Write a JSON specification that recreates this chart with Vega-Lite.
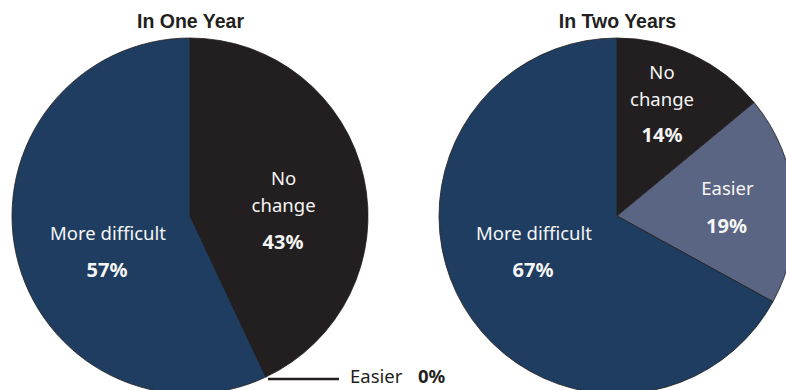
{
  "$schema": "https://vega.github.io/schema/vega-lite/v6.json",
  "width": 786,
  "height": 348,
  "autosize": {"type": "none"},
  "padding": {"top": 42, "left": 0, "right": 0, "bottom": 0},
  "background": "#ffffff",
  "config": {"view": {"stroke": null}},
  "data": {
    "values": [
      {"panel": "In One Year", "answer": "No change", "pct": 43, "order": 1},
      {"panel": "In One Year", "answer": "Easier", "pct": 0, "order": 2},
      {"panel": "In One Year", "answer": "More difficult", "pct": 57, "order": 3},
      {"panel": "In Two Years", "answer": "No change", "pct": 14, "order": 1},
      {"panel": "In Two Years", "answer": "Easier", "pct": 19, "order": 2},
      {"panel": "In Two Years", "answer": "More difficult", "pct": 67, "order": 3}
    ]
  },
  "transform": [
    {"stack": "pct", "groupby": ["panel"], "sort": [{"field": "order", "order": "ascending"}], "as": ["t0", "t1"]},
    {"calculate": "(datum.t0 + datum.t1) / 2", "as": "mid"},
    {"calculate": "datum.pct + '%'", "as": "pctLabel"}
  ],
  "encoding": {
    "x": {
      "field": "panel",
      "type": "nominal",
      "scale": {"type": "point", "domain": ["In One Year", "In Two Years"], "range": [190, 617], "padding": 0},
      "axis": {
        "orient": "top",
        "title": null,
        "domain": false,
        "ticks": false,
        "tickSize": 0,
        "grid": false,
        "labelAngle": 0,
        "labelFont": "Liberation Sans",
        "labelFontWeight": "bold",
        "labelFontSize": 19.5,
        "labelColor": "#231f20",
        "labelBaseline": "alphabetic",
        "labelPadding": 15,
        "labelFlush": false,
        "labelOverlap": false,
        "labelBound": false
      }
    }
  },
  "layer": [
    {
      "mark": {"type": "arc", "radius": 178, "stroke": "#231f20", "strokeWidth": 0.8},
      "encoding": {
        "theta": {"field": "t0", "type": "quantitative", "scale": {"domain": [0, 100]}, "stack": null},
        "theta2": {"field": "t1"},
        "color": {
          "field": "answer",
          "type": "nominal",
          "scale": {"domain": ["More difficult", "No change", "Easier"], "range": ["#1e3d60", "#231f20", "#5a6583"]},
          "legend": null
        }
      }
    },
    {
      "transform": [{"filter": "datum.panel == 'In One Year' && datum.answer == 'No change'"}],
      "mark": {"type": "text", "radius": 100, "dx": -4, "dy": -9, "align": "center", "baseline": "alphabetic", "lineBreak": " ", "lineHeight": 26.7, "font": "Noto Sans", "fontSize": 18.5, "color": "#f5f5f5"},
      "encoding": {"theta": {"field": "mid", "type": "quantitative", "stack": null}, "text": {"field": "answer"}}
    },
    {
      "transform": [{"filter": "datum.panel == 'In One Year' && datum.answer == 'No change'"}],
      "mark": {"type": "text", "radius": 100, "dx": -4.6, "dy": 54.8, "align": "center", "baseline": "alphabetic", "font": "Noto Sans", "fontSize": 20, "fontWeight": "bold", "color": "#f5f5f5"},
      "encoding": {"theta": {"field": "mid", "type": "quantitative", "stack": null}, "text": {"field": "pctLabel"}}
    },
    {
      "transform": [{"filter": "datum.panel == 'In One Year' && datum.answer == 'More difficult'"}],
      "mark": {"type": "text", "radius": 100, "dx": 15.6, "dy": 2.2, "align": "center", "baseline": "alphabetic", "font": "Noto Sans", "fontSize": 18.5, "color": "#f5f5f5"},
      "encoding": {"theta": {"field": "mid", "type": "quantitative", "stack": null}, "text": {"field": "answer"}}
    },
    {
      "transform": [{"filter": "datum.panel == 'In One Year' && datum.answer == 'More difficult'"}],
      "mark": {"type": "text", "radius": 100, "dx": 14.6, "dy": 39.2, "align": "center", "baseline": "alphabetic", "font": "Noto Sans", "fontSize": 20, "fontWeight": "bold", "color": "#f5f5f5"},
      "encoding": {"theta": {"field": "mid", "type": "quantitative", "stack": null}, "text": {"field": "pctLabel"}}
    },
    {
      "transform": [{"filter": "datum.panel == 'In One Year' && datum.answer == 'Easier'"}],
      "mark": {"type": "tick", "orient": "horizontal", "size": 71, "thickness": 2.5, "color": "#231f20", "opacity": 1, "xOffset": 113.5, "yOffset": 163},
      "encoding": {}
    },
    {
      "transform": [{"filter": "datum.panel == 'In One Year' && datum.answer == 'Easier'"}],
      "mark": {"type": "text", "radius": 178, "dx": 84.2, "dy": 5.9, "align": "left", "baseline": "alphabetic", "font": "Noto Sans", "fontSize": 18.5, "color": "#231f20"},
      "encoding": {"theta": {"field": "mid", "type": "quantitative", "stack": null}, "text": {"field": "answer"}}
    },
    {
      "transform": [{"filter": "datum.panel == 'In One Year' && datum.answer == 'Easier'"}],
      "mark": {"type": "text", "radius": 178, "dx": 152.2, "dy": 5.9, "align": "left", "baseline": "alphabetic", "font": "Noto Sans", "fontSize": 18.5, "fontWeight": "bold", "color": "#231f20"},
      "encoding": {"theta": {"field": "mid", "type": "quantitative", "stack": null}, "text": {"field": "pctLabel"}}
    },
    {
      "transform": [{"filter": "datum.panel == 'In Two Years' && datum.answer == 'No change'"}],
      "mark": {"type": "text", "radius": 100, "dx": 2.4, "dy": -46.5, "align": "center", "baseline": "alphabetic", "lineBreak": " ", "lineHeight": 26.7, "font": "Noto Sans", "fontSize": 18.5, "color": "#f5f5f5"},
      "encoding": {"theta": {"field": "mid", "type": "quantitative", "stack": null}, "text": {"field": "answer"}}
    },
    {
      "transform": [{"filter": "datum.panel == 'In Two Years' && datum.answer == 'No change'"}],
      "mark": {"type": "text", "radius": 100, "dx": 2.4, "dy": 16.5, "align": "center", "baseline": "alphabetic", "font": "Noto Sans", "fontSize": 20, "fontWeight": "bold", "color": "#f5f5f5"},
      "encoding": {"theta": {"field": "mid", "type": "quantitative", "stack": null}, "text": {"field": "pctLabel"}}
    },
    {
      "transform": [{"filter": "datum.panel == 'In Two Years' && datum.answer == 'Easier'"}],
      "mark": {"type": "text", "radius": 100, "dx": 10.9, "dy": -11.6, "align": "center", "baseline": "alphabetic", "font": "Noto Sans", "fontSize": 18.5, "color": "#f5f5f5"},
      "encoding": {"theta": {"field": "mid", "type": "quantitative", "stack": null}, "text": {"field": "answer"}}
    },
    {
      "transform": [{"filter": "datum.panel == 'In Two Years' && datum.answer == 'Easier'"}],
      "mark": {"type": "text", "radius": 100, "dx": 9.9, "dy": 26.4, "align": "center", "baseline": "alphabetic", "font": "Noto Sans", "fontSize": 20, "fontWeight": "bold", "color": "#f5f5f5"},
      "encoding": {"theta": {"field": "mid", "type": "quantitative", "stack": null}, "text": {"field": "pctLabel"}}
    },
    {
      "transform": [{"filter": "datum.panel == 'In Two Years' && datum.answer == 'More difficult'"}],
      "mark": {"type": "text", "radius": 100, "dx": 3.1, "dy": -26.9, "align": "center", "baseline": "alphabetic", "font": "Noto Sans", "fontSize": 18.5, "color": "#f5f5f5"},
      "encoding": {"theta": {"field": "mid", "type": "quantitative", "stack": null}, "text": {"field": "answer"}}
    },
    {
      "transform": [{"filter": "datum.panel == 'In Two Years' && datum.answer == 'More difficult'"}],
      "mark": {"type": "text", "radius": 100, "dx": 2.1, "dy": 9.8, "align": "center", "baseline": "alphabetic", "font": "Noto Sans", "fontSize": 20, "fontWeight": "bold", "color": "#f5f5f5"},
      "encoding": {"theta": {"field": "mid", "type": "quantitative", "stack": null}, "text": {"field": "pctLabel"}}
    }
  ]
}
